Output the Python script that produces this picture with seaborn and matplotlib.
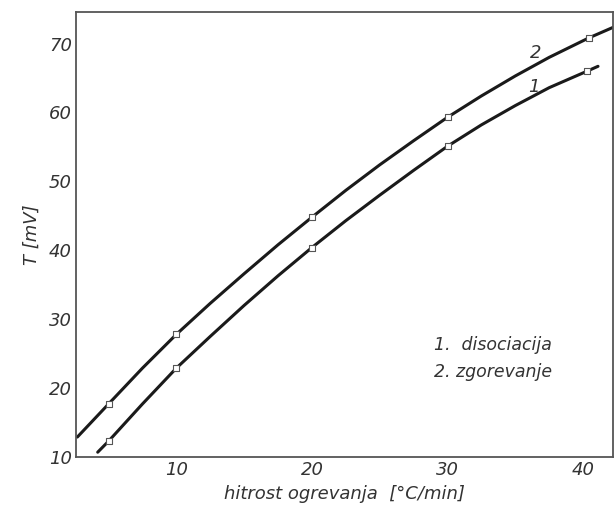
import matplotlib
matplotlib.use("Agg")
import matplotlib.pyplot as plt
import seaborn as sns
import pandas as pd

# curve traces
curve1_x = [4.2, 5.0, 7.5, 10.0, 12.5, 15.0, 17.5, 20.0, 22.5, 25.0, 27.5, 30.0,
            32.5, 35.0, 37.5, 40.3, 41.1]
curve1_y = [10.7, 12.3, 17.7, 22.9, 27.5, 32.0, 36.3, 40.4, 44.3, 48.0, 51.6, 55.1,
            58.2, 61.0, 63.6, 66.0, 66.7]
curve2_x = [2.7, 5.0, 7.5, 10.0, 12.5, 15.0, 17.5, 20.0, 22.5, 25.0, 27.5, 30.0,
            32.5, 35.0, 37.5, 40.4, 42.5]
curve2_y = [12.9, 17.7, 22.9, 27.8, 32.3, 36.6, 40.8, 44.8, 48.7, 52.4, 55.9, 59.3,
            62.4, 65.3, 68.0, 70.8, 72.6]

# measured points (markers)
pts1_x = [5.0, 10.0, 20.0, 30.0, 40.3]
pts1_y = [12.3, 22.9, 40.4, 55.1, 66.0]
pts2_x = [5.0, 10.0, 20.0, 30.0, 40.4]
pts2_y = [17.7, 27.8, 44.8, 59.3, 70.8]

x_ticks = [10, 20, 30, 40]
y_ticks = [10, 20, 30, 40, 50, 60, 70]
x_label = "hitrost ogrevanja  [°C/min]"
y_label = "T [mV]"
legend_lines = ["1.  disociacija", "2. zgorevanje"]

sns.set_style("white")
plt.rcParams["font.family"] = ["DejaVu Sans"]

fig = plt.figure(figsize=(6.16, 5.16), dpi=100)
ax = fig.add_axes([0.1234, 0.1143, 0.995 - 0.1234, 0.977 - 0.1143])

ink = "#1a1a1a"
df1 = pd.DataFrame({"x": curve1_x, "y": curve1_y})
df2 = pd.DataFrame({"x": curve2_x, "y": curve2_y})
sns.lineplot(data=df1, x="x", y="y", ax=ax, color=ink, lw=2.2, sort=True)
sns.lineplot(data=df2, x="x", y="y", ax=ax, color=ink, lw=2.2, sort=True)
for line in ax.get_lines():
    line.set_solid_joinstyle("round")
    line.set_solid_capstyle("round")
sns.scatterplot(x=pts1_x, y=pts1_y, ax=ax, marker="s", s=14, facecolor="white",
                edgecolor="#555555", linewidth=0.8, zorder=5)
sns.scatterplot(x=pts2_x, y=pts2_y, ax=ax, marker="s", s=14, facecolor="white",
                edgecolor="#555555", linewidth=0.8, zorder=5)

ax.set_xlim(2.6, 42.2)
ax.set_ylim(10, 74.6)
ax.set_xticks(x_ticks)
ax.set_yticks(y_ticks)
ax.tick_params(direction="in", length=6, width=1.0, colors="#555555",
               labelcolor="#333333", labelsize=13, pad=3)
for lab in ax.get_xticklabels() + ax.get_yticklabels():
    lab.set_fontstyle("italic")

for s in ax.spines.values():
    s.set_color("#555555")
    s.set_linewidth(1.3)

ax.set_xlabel(x_label, fontsize=13, fontstyle="italic", color="#333333", labelpad=4)
ax.set_ylabel(y_label, fontsize=13, fontstyle="italic", color="#333333", labelpad=6)

ax.text(36.5, 68.7, "2", fontsize=13, fontstyle="italic", color="#333333",
        ha="center", va="center")
ax.text(36.4, 63.7, "1", fontsize=13, fontstyle="italic", color="#333333",
        ha="center", va="center")
ax.text(29.0, 26.2, legend_lines[0], fontsize=12.5, fontstyle="italic",
        color="#333333", ha="left", va="center")
ax.text(29.0, 22.3, legend_lines[1], fontsize=12.5, fontstyle="italic",
        color="#333333", ha="left", va="center")

fig.savefig("out.png", dpi=100, facecolor="white")
